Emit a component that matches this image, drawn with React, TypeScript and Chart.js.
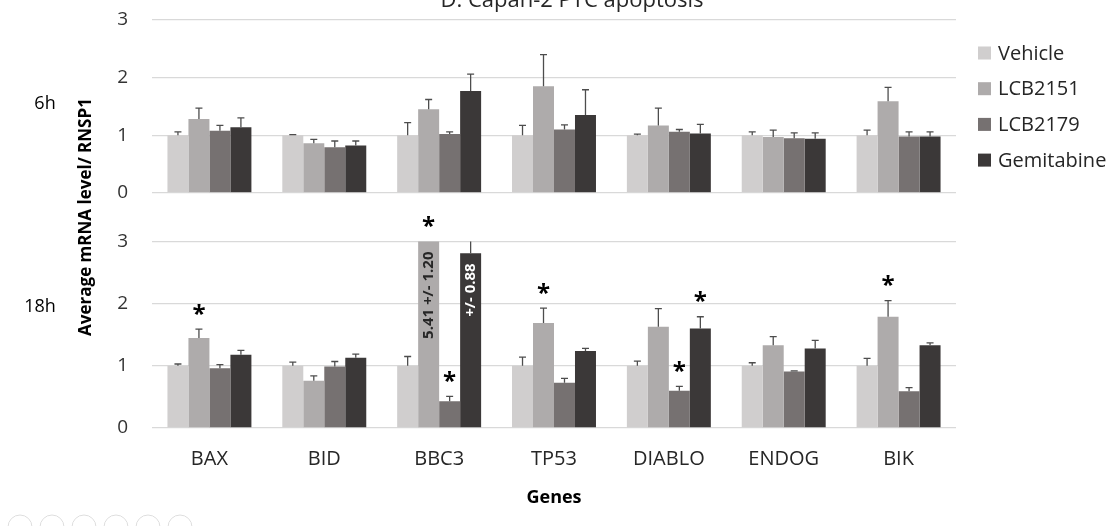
import React, { useEffect, useRef } from 'react';
import { Chart, registerables } from 'chart.js';

Chart.register(...registerables);

const genes = ['BAX', 'BID', 'BBC3', 'TP53', 'DIABLO', 'ENDOG', 'BIK'];
const seriesNames = ['Vehicle', 'LCB2151', 'LCB2179', 'Gemitabine'];
const seriesColors = ['#d0cece', '#aeabab', '#767171', '#3b3838'];
const yTickValues = [0, 1, 2, 3];
const chartTitle = 'D. Capan-2 PTC apoptosis';
const yAxisTitle = 'Average mRNA level/ RNSP1';
const xAxisTitle = 'Genes';
const panelLabels = ['6h', '18h'];

// 6h panel
const vehicle6h = [1.0, 1.0, 1.0, 1.0, 1.0, 1.0, 1.0];
const vehicle6hErr = [0.06, 0.01, 0.22, 0.17, 0.02, 0.06, 0.09];
const lcb2151_6h = [1.28, 0.86, 1.45, 1.85, 1.17, 0.97, 1.59];
const lcb2151_6hErr = [0.19, 0.07, 0.17, 0.55, 0.3, 0.12, 0.24];
const lcb2179_6h = [1.08, 0.79, 1.02, 1.1, 1.06, 0.95, 0.98];
const lcb2179_6hErr = [0.09, 0.11, 0.04, 0.08, 0.04, 0.09, 0.08];
const gem6h = [1.14, 0.82, 1.77, 1.35, 1.03, 0.94, 0.98];
const gem6hErr = [0.16, 0.08, 0.29, 0.44, 0.16, 0.1, 0.08];

// 18h panel
const vehicle18h = [1.0, 1.0, 1.0, 1.0, 1.0, 1.0, 1.0];
const vehicle18hErr = [0.03, 0.06, 0.15, 0.14, 0.075, 0.05, 0.12];
const lcb2151_18h = [1.45, 0.76, 5.41, 1.69, 1.63, 1.33, 1.79];
const lcb2151_18hErr = [0.14, 0.08, 1.2, 0.24, 0.29, 0.14, 0.26];
const lcb2179_18h = [0.96, 0.99, 0.43, 0.73, 0.6, 0.91, 0.59];
const lcb2179_18hErr = [0.06, 0.08, 0.08, 0.07, 0.07, 0.01, 0.06];
const gem18h = [1.18, 1.13, 2.81, 1.24, 1.6, 1.28, 1.33];
const gem18hErr = [0.07, 0.06, 0.88, 0.04, 0.19, 0.13, 0.04];

// significance marks (18h): 1 = asterisk
const sigVehicle18h = [0, 0, 0, 0, 0, 0, 0];
const sigLcb2151_18h = [1, 0, 1, 1, 0, 0, 1];
const sigLcb2179_18h = [0, 0, 1, 0, 1, 0, 0];
const sigGem18h = [0, 0, 0, 0, 1, 0, 0];

// in-bar value notes (18h, BBC3)
const barNotes = [
  { gene: 'BBC3', series: 1, text: '5.41 +/- 1.20', color: '#262626' },
  { gene: 'BBC3', series: 3, text: '+/- 0.88', color: '#ffffff' },
];

const values6h = [vehicle6h, lcb2151_6h, lcb2179_6h, gem6h];
const errors6h = [vehicle6hErr, lcb2151_6hErr, lcb2179_6hErr, gem6hErr];
const values18h = [vehicle18h, lcb2151_18h, lcb2179_18h, gem18h];
const errors18h = [vehicle18hErr, lcb2151_18hErr, lcb2179_18hErr, gem18hErr];
const sig18h = [sigVehicle18h, sigLcb2151_18h, sigLcb2179_18h, sigGem18h];

const FONT = "'Open Sans', 'Noto Sans', sans-serif";
const TEXT = '#262626';

const datasets: any[] = [];
values6h.forEach((vals, k) => {
  datasets.push({
    label: seriesNames[k],
    data: vals,
    errors: errors6h[k],
    sig: null,
    backgroundColor: seriesColors[k],
    borderWidth: 0,
    yAxisID: 'yTop',
    stack: 's' + k,
    clip: 0,
    categoryPercentage: 0.731,
    barPercentage: 1.0,
    seriesIndex: k,
  });
});
values18h.forEach((vals, k) => {
  datasets.push({
    label: seriesNames[k] + ' 18h',
    data: vals,
    errors: errors18h[k],
    sig: sig18h[k],
    backgroundColor: seriesColors[k],
    borderWidth: 0,
    yAxisID: 'yBottom',
    stack: 's' + k,
    clip: 0,
    categoryPercentage: 0.731,
    barPercentage: 1.0,
    seriesIndex: k,
  });
});

const errorBarPlugin = {
  id: 'errorBars',
  afterDatasetsDraw(chart: any) {
    const ctx = chart.ctx;
    chart.data.datasets.forEach((ds: any, i: number) => {
      const meta = chart.getDatasetMeta(i);
      const yScale = chart.scales[ds.yAxisID];
      ctx.save();
      ctx.beginPath();
      ctx.rect(chart.chartArea.left, yScale.top, chart.chartArea.width, yScale.bottom - yScale.top);
      ctx.clip();
      ctx.strokeStyle = '#4d4d4d';
      ctx.lineWidth = 1.3;
      meta.data.forEach((bar: any, j: number) => {
        const v = ds.data[j];
        const e = ds.errors[j];
        const yBase = yScale.getPixelForValue(v);
        const yTop = yScale.getPixelForValue(v + e);
        ctx.beginPath();
        ctx.moveTo(bar.x, yBase);
        ctx.lineTo(bar.x, yTop);
        ctx.moveTo(bar.x - 3.5, yTop);
        ctx.lineTo(bar.x + 3.5, yTop);
        ctx.stroke();
      });
      ctx.restore();
    });

    // asterisks
    ctx.save();
    ctx.fillStyle = '#000000';
    ctx.font = `bold 24px ${FONT}`;
    ctx.textAlign = 'center';
    ctx.textBaseline = 'alphabetic';
    const m = ctx.measureText('*');
    const asc = m.actualBoundingBoxAscent || 17;
    const desc = m.actualBoundingBoxDescent || -9;
    chart.data.datasets.forEach((ds: any, i: number) => {
      if (!ds.sig) return;
      const meta = chart.getDatasetMeta(i);
      const yScale = chart.scales[ds.yAxisID];
      meta.data.forEach((bar: any, j: number) => {
        if (!ds.sig[j]) return;
        const top = Math.max(yScale.getPixelForValue(ds.data[j] + ds.errors[j]), yScale.top);
        const cy = top - 20;
        ctx.fillText('*', bar.x, cy + (asc - desc) / 2);
      });
    });
    ctx.restore();

    // in-bar notes
    chart.data.datasets.forEach((ds: any, i: number) => {
      if (!ds.sig) return;
      const meta = chart.getDatasetMeta(i);
      const yScale = chart.scales[ds.yAxisID];
      barNotes.forEach((note) => {
        if (note.series !== ds.seriesIndex) return;
        const j = genes.indexOf(note.gene);
        const bar = meta.data[j];
        const top = Math.max(yScale.getPixelForValue(ds.data[j]), yScale.top);
        ctx.save();
        ctx.translate(bar.x, top + 10);
        ctx.rotate(-Math.PI / 2);
        ctx.font = `bold 15px ${FONT}`;
        ctx.fillStyle = note.color;
        ctx.textAlign = 'right';
        ctx.textBaseline = 'middle';
        ctx.fillText(note.text, 0, 0);
        ctx.restore();
      });
    });
  },
};

const decorPlugin = {
  id: 'decor',
  afterDraw(chart: any) {
    const ctx = chart.ctx;
    const area = chart.chartArea;
    ctx.save();
    // title (cut at top)
    ctx.fillStyle = TEXT;
    ctx.font = `22px ${FONT}`;
    ctx.textAlign = 'center';
    ctx.textBaseline = 'alphabetic';
    ctx.fillText(chartTitle, 572, 7);

    // y-axis title
    ctx.save();
    ctx.translate(86, 217);
    ctx.rotate(-Math.PI / 2);
    ctx.font = `bold 17px ${FONT}`;
    ctx.textAlign = 'center';
    ctx.textBaseline = 'middle';
    ctx.fillStyle = '#000000';
    ctx.fillText(yAxisTitle, 0, 0);
    ctx.restore();

    // panel labels
    ctx.font = `18px ${FONT}`;
    ctx.textAlign = 'center';
    ctx.textBaseline = 'middle';
    ctx.fillStyle = '#000000';
    ctx.fillText(panelLabels[0], 45, 104);
    ctx.fillText(panelLabels[1], 40, 307);

    // legend
    ctx.font = `20px ${FONT}`;
    ctx.textAlign = 'left';
    ctx.textBaseline = 'middle';
    seriesNames.forEach((name, k) => {
      const cy = 53 + k * 35.7;
      ctx.fillStyle = seriesColors[k];
      ctx.fillRect(area.right + 22, cy - 6.5, 13, 13);
      ctx.fillStyle = TEXT;
      ctx.fillText(name, area.right + 42, cy + 1);
    });

    // toolbar circles (bottom-left of screenshot)
    ctx.strokeStyle = '#dedede';
    ctx.lineWidth = 1;
    for (let i = 0; i < 6; i++) {
      ctx.beginPath();
      ctx.arc(20 + i * 32, 527, 12, 0, Math.PI * 2);
      ctx.stroke();
    }
    ctx.restore();
  },
};

const yScaleBase = (weightOrder: number, stackWeight: number) => ({
  type: 'linear' as const,
  position: 'left' as const,
  stack: 'panels',
  stackWeight,
  weight: weightOrder,
  min: 0,
  max: 3,
  afterBuildTicks: (scale: any) => {
    scale.ticks = yTickValues.map((v) => ({ value: v }));
  },
  afterFit: (scale: any) => {
    scale.width = 152;
    scale.paddingTop = 0;
    scale.paddingBottom = 0;
  },
  ticks: {
    stepSize: 1,
    padding: 24,
    color: '#333333',
    font: { family: FONT, size: 19 },
  },
  grid: { color: '#d9d9d9', lineWidth: 1.3, drawTicks: false },
  border: { display: false },
});

export default function App() {
  const ref = useRef<HTMLCanvasElement>(null);
  useEffect(() => {
    if (!ref.current) return;
    const chart = new Chart(ref.current, {
      type: 'bar',
      data: { labels: genes, datasets },
      options: {
        animation: false,
        responsive: true,
        maintainAspectRatio: false,
        layout: { padding: { top: 20, right: 157, bottom: 15, left: 0 } },
        plugins: {
          legend: { display: false },
          tooltip: { enabled: false },
          title: { display: false },
        },
        scales: {
          x: {
            type: 'category',
            grid: { display: false },
            border: { display: false },
            afterFit: (scale: any) => {
              scale.height = 83;
              scale.paddingTop = 0;
              scale.paddingBottom = 0;
            },
            ticks: {
              padding: 11,
              color: TEXT,
              font: { family: FONT, size: 20 },
              maxRotation: 0,
            },
            title: {
              display: true,
              text: xAxisTitle,
              color: '#000000',
              font: { family: FONT, size: 18, weight: 'bold' },
              padding: { top: 15, bottom: 2 },
            },
          },
          yBottom: yScaleBase(1, 186.6),
          yGap: {
            type: 'linear',
            position: 'left',
            display: false,
            stack: 'panels',
            stackWeight: 48.7,
            weight: 2,
            min: 0,
            max: 1,
          },
          yTop: yScaleBase(3, 173),
        } as any,
      },
      plugins: [errorBarPlugin, decorPlugin],
    } as any);
    return () => chart.destroy();
  }, []);
  return (
    <div style={{ position: 'fixed', left: 0, top: 0, width: 1113, height: 526, background: '#ffffff' }}>
      <canvas ref={ref} />
    </div>
  );
}
